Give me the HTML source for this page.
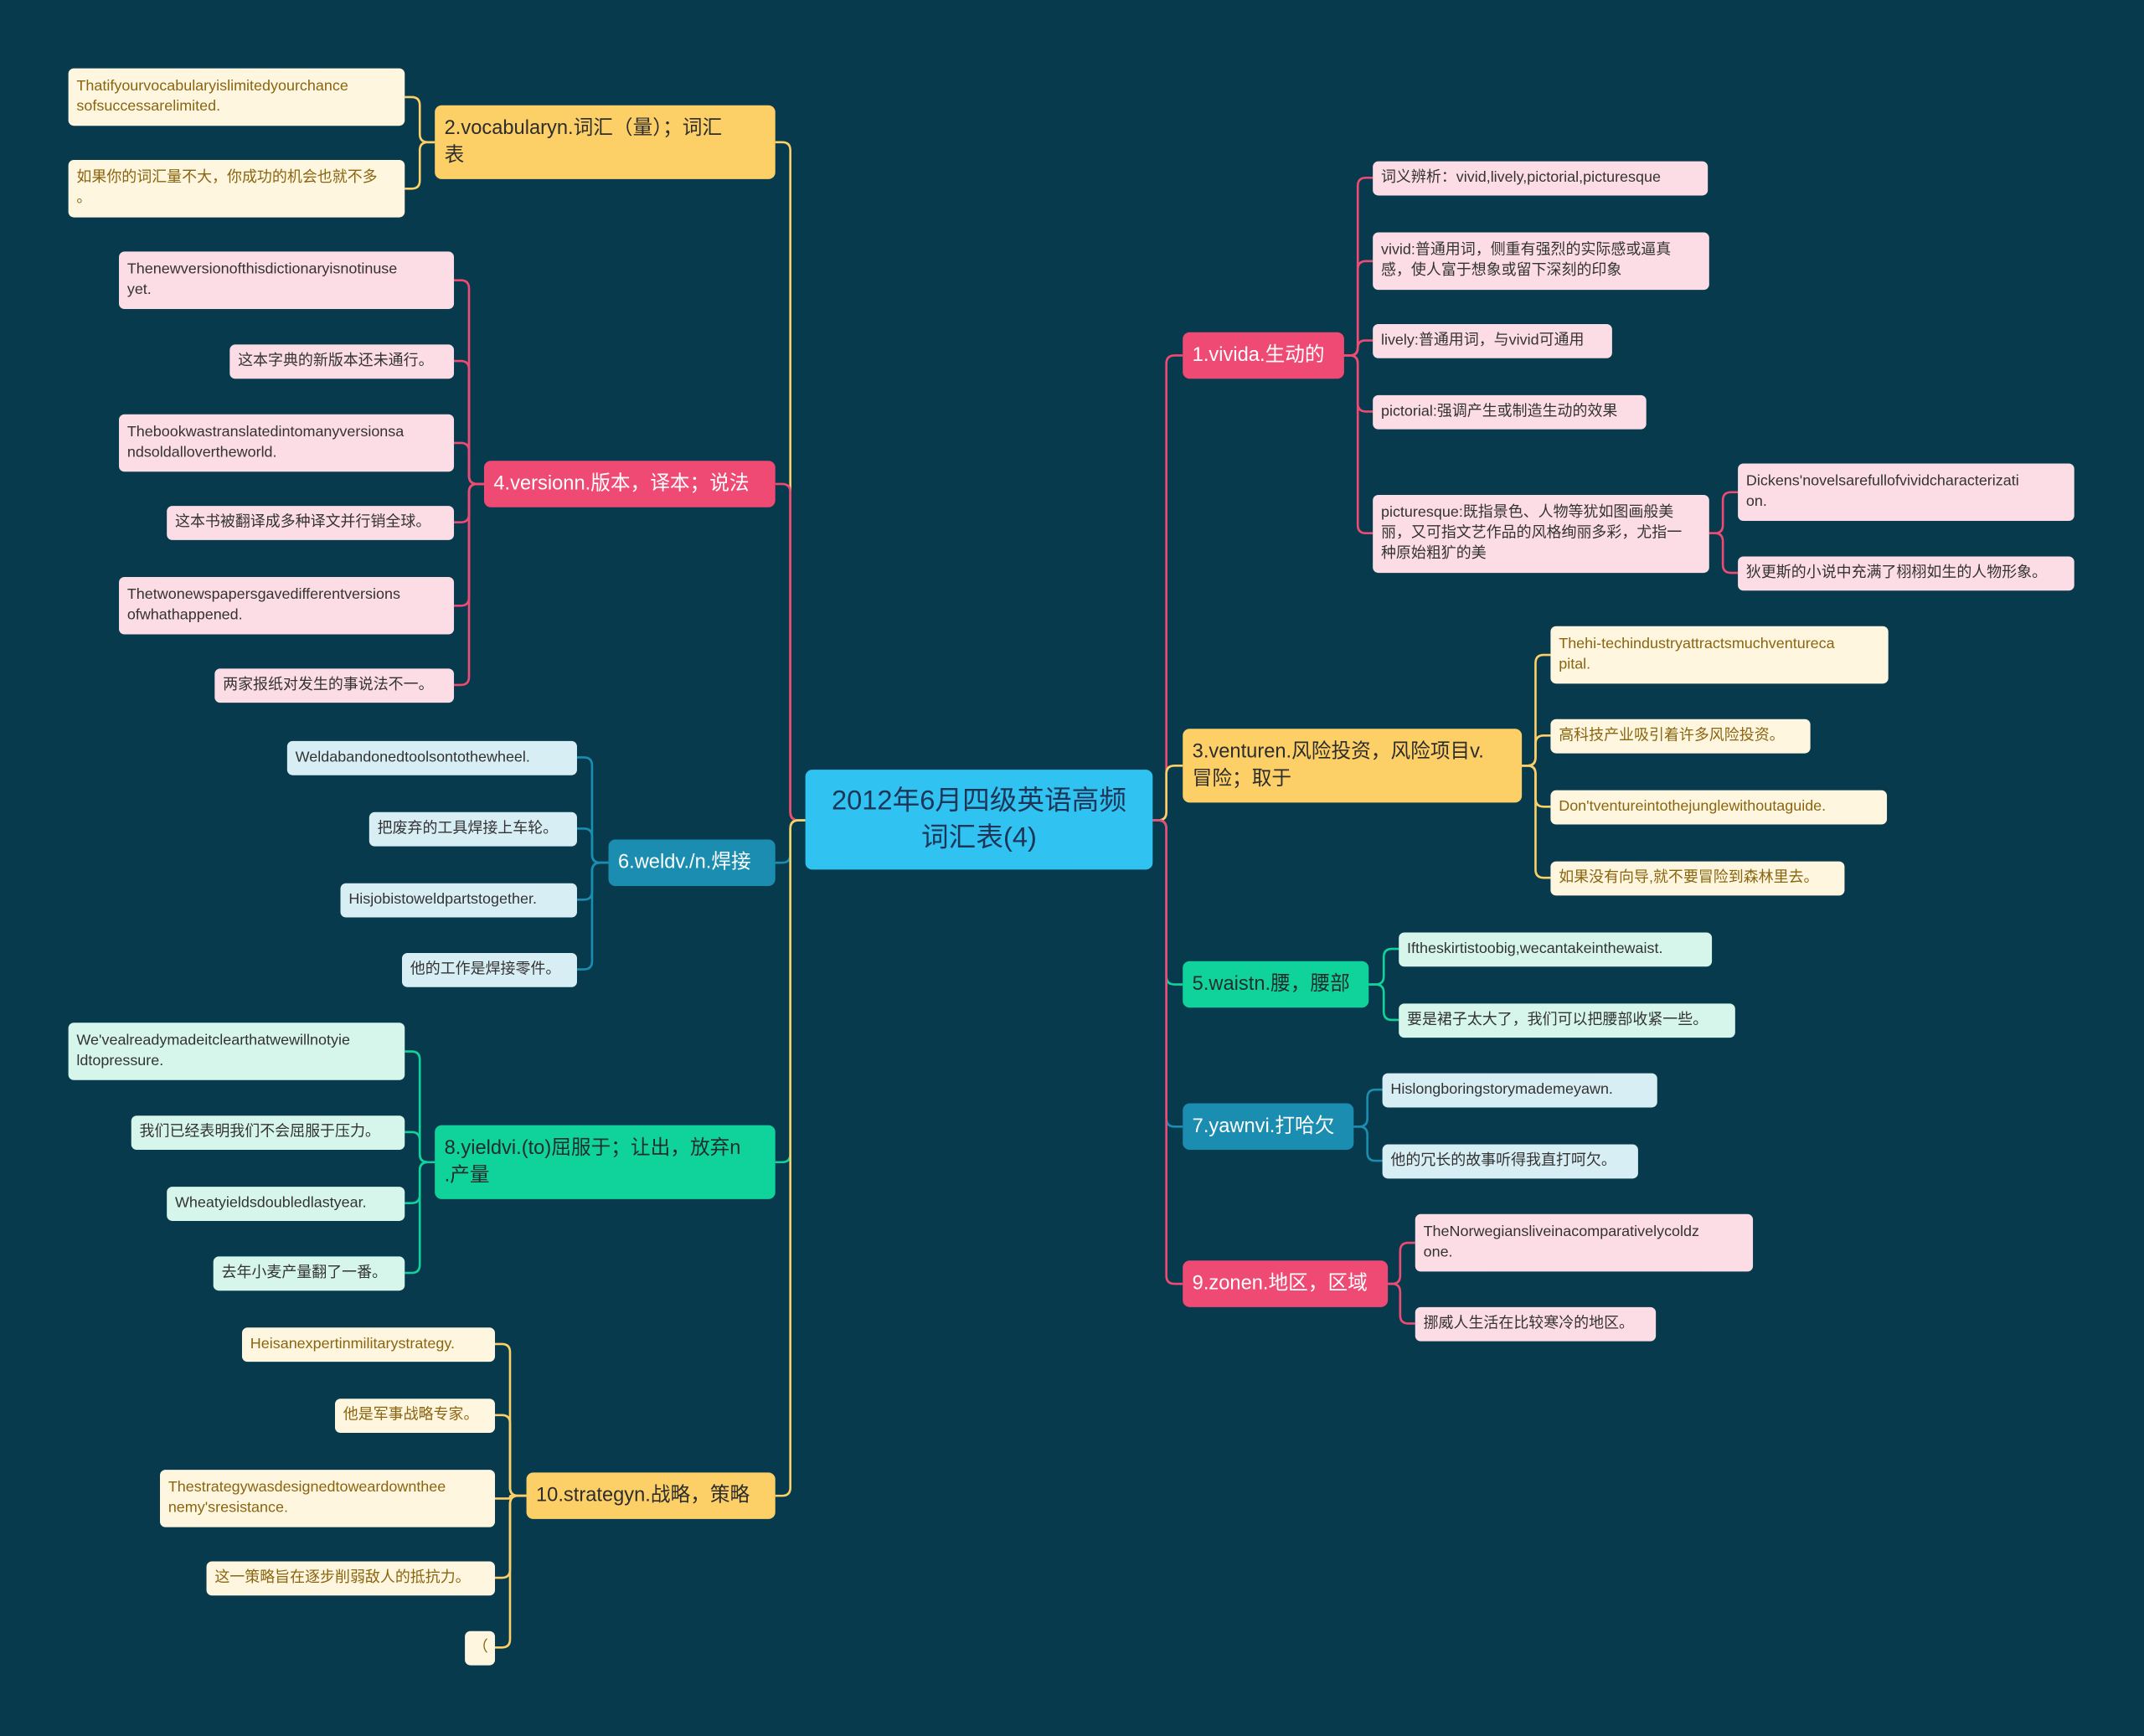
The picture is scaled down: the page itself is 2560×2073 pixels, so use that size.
<!DOCTYPE html>
<html><head><meta charset="utf-8"><style>
html,body{margin:0;padding:0;background:#083a4d;}
body{width:2560px;height:2073px;overflow:hidden;position:relative;}
#w{position:absolute;left:0;top:0;width:1568px;height:1270px;transform:scale(1.63265);transform-origin:0 0;font-family:"Liberation Sans","Noto Sans CJK SC",sans-serif;}
.n{position:absolute;box-sizing:border-box;border-radius:5px;display:flex;align-items:center;white-space:pre;}
.m{font-size:14.5px;line-height:20px;padding:0 7px;}
.l{font-size:11px;line-height:15px;padding:0 6px;border-radius:4px;}
.pk{background:#ef4a73;color:#fff;}
.yl{background:#fdd067;color:#2d2d2d;}
.bl{background:#1a8db1;color:#fff;}
.gr{background:#10d39c;color:#1f2d2d;}
.lp{background:#fddde5;color:#333;}
.ly{background:#fff6e0;color:#8a6510;}
.lb{background:#d8eef5;color:#333;}
.lg{background:#d6f6eb;color:#333;}
svg{position:absolute;left:0;top:0;}
</style></head><body><div id="w">
<svg id="s" width="1568" height="1270"></svg>
<div class="n m" style="left:589px;top:563px;width:254px;height:73px;background:#30c3f2;color:#1d3557;font-size:20px;line-height:27px;justify-content:center;text-align:center;">2012年6月四级英语高频
词汇表(4)</div>

<div class="n m yl" style="left:318px;top:77px;width:249px;height:54px">2.vocabularyn.词汇（量）；词汇
表</div>
<div class="n l ly" style="left:50px;top:50px;width:246px;height:42px">Thatifyourvocabularyislimitedyourchance
sofsuccessarelimited.</div>
<div class="n l ly" style="left:50px;top:117px;width:246px;height:42px">如果你的词汇量不大，你成功的机会也就不多
。</div>

<div class="n m pk" style="left:354px;top:337px;width:213px;height:34px">4.versionn.版本，译本；说法</div>
<div class="n l lp" style="left:87px;top:184px;width:245px;height:42px">Thenewversionofthisdictionaryisnotinuse
yet.</div>
<div class="n l lp" style="left:168px;top:252px;width:164px;height:25px">这本字典的新版本还未通行。</div>
<div class="n l lp" style="left:87px;top:303px;width:245px;height:42px">Thebookwastranslatedintomanyversionsa
ndsoldalloverthe­world.</div>
<div class="n l lp" style="left:122px;top:370px;width:210px;height:25px">这本书被翻译成多种译文并行销全球。</div>
<div class="n l lp" style="left:87px;top:422px;width:245px;height:42px">Thetwonewspapersgavedifferentversions
ofwhathappened.</div>
<div class="n l lp" style="left:157px;top:489px;width:175px;height:25px">两家报纸对发生的事说法不一。</div>

<div class="n m bl" style="left:445px;top:614px;width:122px;height:34px">6.weldv./n.焊接</div>
<div class="n l lb" style="left:210px;top:542px;width:212px;height:25px">Weldabandonedtoolsontothewheel.</div>
<div class="n l lb" style="left:270px;top:594px;width:152px;height:25px">把废弃的工具焊接上车轮。</div>
<div class="n l lb" style="left:249px;top:646px;width:173px;height:25px">Hisjobistoweldpartstogether.</div>
<div class="n l lb" style="left:294px;top:697px;width:128px;height:25px">他的工作是焊接零件。</div>

<div class="n m gr" style="left:318px;top:823px;width:249px;height:54px">8.yieldvi.(to)屈服于；让出，放弃n
.产量</div>
<div class="n l lg" style="left:50px;top:748px;width:246px;height:42px">We'vealreadymadeitclearthatwewillnotyie
ldtopressure.</div>
<div class="n l lg" style="left:96px;top:816px;width:200px;height:25px">我们已经表明我们不会屈服于压力。</div>
<div class="n l lg" style="left:122px;top:868px;width:174px;height:25px">Wheatyieldsdoubledlastyear.</div>
<div class="n l lg" style="left:156px;top:919px;width:140px;height:25px">去年小麦产量翻了一番。</div>

<div class="n m yl" style="left:385px;top:1077px;width:182px;height:34px">10.strategyn.战略，策略</div>
<div class="n l ly" style="left:177px;top:971px;width:185px;height:25px">Heisanexpertinmilitarystrategy.</div>
<div class="n l ly" style="left:245px;top:1023px;width:117px;height:25px">他是军事战略专家。</div>
<div class="n l ly" style="left:117px;top:1075px;width:245px;height:42px">Thestrategywasdesignedtoweardownthee
nemy'sresistance.</div>
<div class="n l ly" style="left:151px;top:1142px;width:211px;height:25px">这一策略旨在逐步削弱敌人的抵抗力。</div>
<div class="n l ly" style="left:340px;top:1193px;width:22px;height:25px">（</div>

<div class="n m pk" style="left:865px;top:243px;width:118px;height:34px">1.vivida.生动的</div>
<div class="n l lp" style="left:1004px;top:118px;width:245px;height:25px">词义辨析：vivid,lively,pictorial,picturesque</div>
<div class="n l lp" style="left:1004px;top:170px;width:246px;height:42px">vivid:普通用词，侧重有强烈的实际感或逼真
感，使人富于想象或留下深刻的印象</div>
<div class="n l lp" style="left:1004px;top:237px;width:175px;height:25px">lively:普通用词，与vivid可通用</div>
<div class="n l lp" style="left:1004px;top:289px;width:200px;height:25px">pictorial:强调产生或制造生动的效果</div>
<div class="n l lp" style="left:1004px;top:362px;width:246px;height:57px">picturesque:既指景色、人物等犹如图画般美
丽，又可指文艺作品的风格绚丽多彩，尤指一
种原始粗犷的美</div>
<div class="n l lp" style="left:1271px;top:339px;width:246px;height:42px">Dickens'novelsarefullofvividcharacterizati
on.</div>
<div class="n l lp" style="left:1271px;top:407px;width:246px;height:25px">狄更斯的小说中充满了栩栩如生的人物形象。</div>

<div class="n m yl" style="left:865px;top:533px;width:248px;height:54px">3.venturen.风险投资，风险项目v.
冒险；取于</div>
<div class="n l ly" style="left:1134px;top:458px;width:247px;height:42px">Thehi-techindustryattractsmuchventureca
pital.</div>
<div class="n l ly" style="left:1134px;top:526px;width:190px;height:25px">高科技产业吸引着许多风险投资。</div>
<div class="n l ly" style="left:1134px;top:578px;width:246px;height:25px">Don'tventureintothejunglewithoutaguide.</div>
<div class="n l ly" style="left:1134px;top:630px;width:215px;height:25px">如果没有向导,就不要冒险到森林里去。</div>

<div class="n m gr" style="left:865px;top:703px;width:136px;height:34px">5.waistn.腰，腰部</div>
<div class="n l lg" style="left:1023px;top:682px;width:229px;height:25px">Iftheskirtistoobig,wecantakeinthewaist.</div>
<div class="n l lg" style="left:1023px;top:734px;width:246px;height:25px">要是裙子太大了，我们可以把腰部收紧一些。</div>

<div class="n m bl" style="left:865px;top:807px;width:125px;height:34px">7.yawnvi.打哈欠</div>
<div class="n l lb" style="left:1011px;top:785px;width:201px;height:25px">Hislongboringstorymademeyawn.</div>
<div class="n l lb" style="left:1011px;top:837px;width:187px;height:25px">他的冗长的故事听得我直打呵欠。</div>

<div class="n m pk" style="left:865px;top:922px;width:150px;height:34px">9.zonen.地区，区域</div>
<div class="n l lp" style="left:1035px;top:888px;width:247px;height:42px">TheNorwegiansliveinacomparativelycoldz
one.</div>
<div class="n l lp" style="left:1035px;top:956px;width:176px;height:25px">挪威人生活在比较寒冷的地区。</div>
</div>
<script>
var s=document.getElementById('s'),P='';
function c(ax,ay,cx,bx,by,col){var r=Math.min(6,Math.abs(by-ay)/2),d=Math.sign(by-ay)||1,h1=Math.sign(cx-ax),h2=Math.sign(bx-cx);
P+='<path d="M'+ax+' '+ay+' H'+(cx-h1*r)+' Q'+cx+' '+ay+' '+cx+' '+(ay+d*r)+' V'+(by-d*r)+' Q'+cx+' '+by+' '+(cx+h2*r)+' '+by+' H'+bx+'" fill="none" stroke="'+col+'" stroke-width="1.6"/>';}
var Y='#fdd067',K='#ef4a73',B='#1a8db1',G='#10d39c';
[[104,Y],[354,K],[631,B],[850,G],[1094,Y]].forEach(function(a){c(589,600,578,567,a[0],a[1]);});
[[260,K],[560,Y],[720,G],[824,B],[939,K]].forEach(function(a){c(843,600,853,865,a[0],a[1]);});
function L(nx,ny,cx,arr,col){arr.forEach(function(a){c(nx,ny,cx,a[0],a[1],col);});}
L(318,104,307,[[296,71],[296,138]],Y);
L(354,354,343,[[332,205],[332,264],[332,324],[332,382],[332,443],[332,501]],K);
L(445,631,433,[[422,554],[422,606],[422,658],[422,709]],B);
L(318,850,307,[[296,769],[296,828],[296,880],[296,931]],G);
L(385,1094,373,[[362,983],[362,1035],[362,1096],[362,1154],[362,1205]],Y);
L(983,260,993,[[1004,130],[1004,191],[1004,249],[1004,301],[1004,390]],K);
L(1250,390,1260,[[1271,360],[1271,419]],K);
L(1113,560,1123,[[1134,479],[1134,538],[1134,590],[1134,642]],Y);
L(1001,720,1012,[[1023,694],[1023,746]],G);
L(990,824,1000,[[1011,797],[1011,849]],B);
L(1015,939,1024,[[1035,909],[1035,968]],K);
s.innerHTML=P;
</script>
</body></html>
